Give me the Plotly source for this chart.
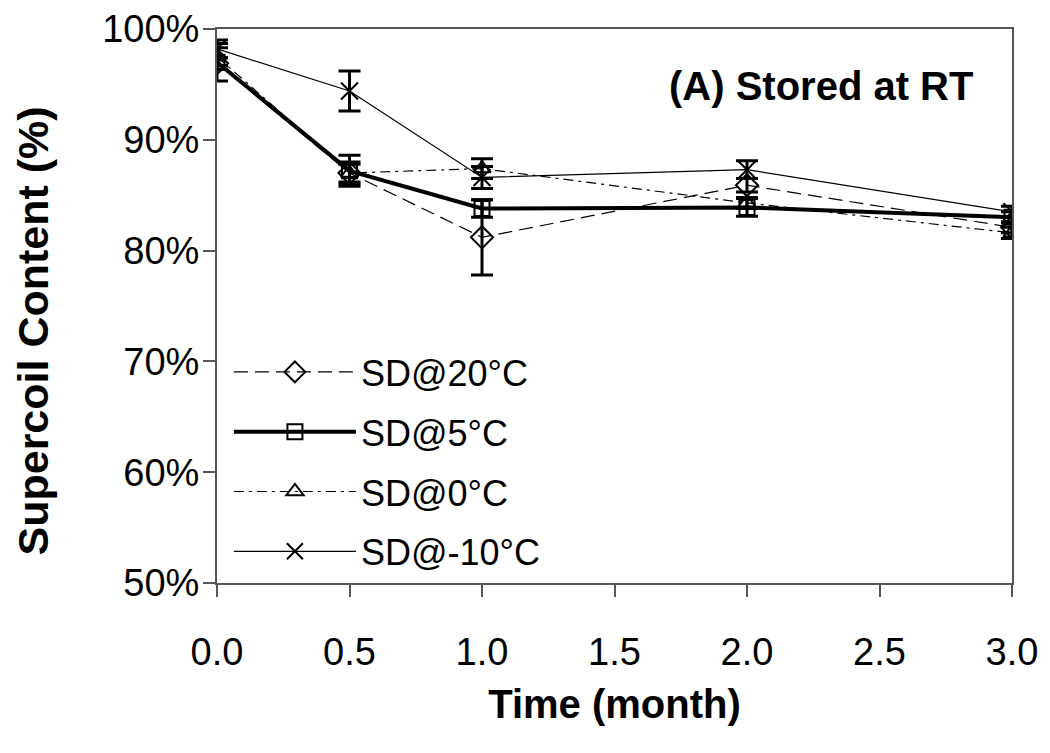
import plotly.graph_objects as go

time = [0.0, 0.5, 1.0, 2.0, 3.0]

names = ["SD@20°C", "SD@5°C", "SD@0°C", "SD@-10°C"]
sd20 = [96.9, 87.0, 81.2, 85.9, 82.1]
sd20_err = [0.5, 1.0, 3.4, 0.6, 0.5]
sd5 = [97.0, 87.2, 83.8, 83.9, 83.0]
sd5_err = [1.7, 1.4, 0.8, 0.8, 0.5]
sd0 = [97.5, 87.0, 87.4, 84.3, 81.6]
sd0_err = [0.8, 0.8, 0.9, 0.5, 0.5]
sdm10 = [98.2, 94.4, 86.6, 87.3, 83.5]
sdm10_err = [0.8, 1.8, 1.0, 0.8, 0.5]

series = [sd20, sd5, sd0, sdm10]
errors = [sd20_err, sd5_err, sd0_err, sdm10_err]
symbols = ["diamond-open", "square-open", "triangle-up-open", "x-thin-open"]
dashes = ["14px,7px", "solid", "10px,5px,3px,5px", "solid"]
widths = [1.2, 4, 1.2, 1.2]
msizes = [17, 15, 15, 17]

fig = go.Figure()
for i in range(4):
    fig.add_trace(go.Scatter(
        x=time, y=series[i], name=names[i], mode="lines+markers",
        legendgroup=names[i],
        line=dict(color="black", width=widths[i], dash=dashes[i]),
        marker=dict(symbol=symbols[i], size=msizes[i], color="black",
                    line=dict(color="black", width=2)),
        error_y=dict(type="data", array=errors[i], visible=True,
                     color="black", thickness=3, width=11),
    ))

font_family = "Liberation Sans, Arial, sans-serif"
fig.update_layout(
    width=1034, height=728,
    paper_bgcolor="white", plot_bgcolor="white",
    margin=dict(l=209, r=30, t=21, b=153, autoexpand=False),
    font=dict(family=font_family, color="black", size=38),
    showlegend=True,
    legend=dict(x=0.015, y=0.435, xanchor="left", yanchor="top",
                bgcolor="rgba(0,0,0,0)", font=dict(size=36),
                traceorder="grouped", tracegroupgap=10, itemwidth=122),
    annotations=[
        dict(text="<b>(A) Stored at RT</b>", xref="paper", yref="paper",
             x=0.954, y=0.897, xanchor="right", yanchor="middle",
             showarrow=False, font=dict(size=40)),
        dict(text="<b>Supercoil Content (%)</b>", xref="paper", yref="paper",
             x=-0.232, y=0.455, xanchor="center", yanchor="middle",
             textangle=-90, showarrow=False, font=dict(size=43)),
    ],
)
fig.update_xaxes(
    range=[0, 3], tickvals=[0, 0.5, 1.0, 1.5, 2.0, 2.5, 3.0],
    ticktext=["0.0", "0.5", "1.0", "1.5", "2.0", "2.5", "3.0"],
    ticks="outside", ticklen=12, tickcolor="#555", tickwidth=1.5,
    showline=True, linecolor="#555", linewidth=2, mirror=True,
    showgrid=False, zeroline=False, ticklabeloverflow="allow",
    automargin=False,
    tickfont=dict(size=38), ticklabelstandoff=22,
    title=dict(text="<b>Time (month)</b>", font=dict(size=40), standoff=18),
)
fig.update_yaxes(
    range=[50, 100], tickvals=[50, 60, 70, 80, 90, 100],
    ticktext=["50%", "60%", "70%", "80%", "90%", "100%"],
    ticks="outside", ticklen=12, tickcolor="#555", tickwidth=1.5,
    showline=True, linecolor="#555", linewidth=2, mirror=True,
    showgrid=False, zeroline=False, ticklabeloverflow="allow",
    automargin=False,
    tickfont=dict(size=38), ticklabelstandoff=-4,
)
fig.write_html("out.html")
